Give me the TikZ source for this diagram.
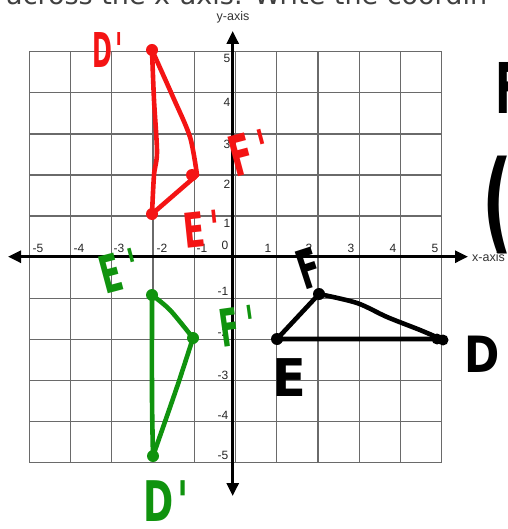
\documentclass[tikz,border=0pt]{standalone}
\usepackage{fontspec}
\setmainfont{Liberation Sans}
\newfontfamily\handfont{DejaVu Sans}
\newfontfamily\topfont{DejaVu Sans}
\usetikzlibrary{arrows.meta}
\definecolor{pred}{HTML}{F41414}
\definecolor{pgreen}{HTML}{10930E}
\definecolor{gridgray}{HTML}{6A6A6A}
\newcommand{\hwtext}[2]{\scalebox{#1}[1]{#2}}
\begin{document}
\begin{tikzpicture}[x=1pt,y=-1pt,
  gridline/.style={draw=gridgray,line width=1.3pt},
  axisline/.style={line width=2.8pt,{Triangle[length=13pt,width=12pt]}-{Triangle[length=13pt,width=12pt]}},
  ticklab/.style={font=\fontsize{12}{12}\selectfont,text=black!85,inner sep=0pt},
  axlab/.style={font=\fontsize{12.5}{12.5}\selectfont,text=black!80,inner sep=0pt},
  hand/.style={inner sep=0pt,font=\handfont\bfseries\fontsize{#1}{#1}\selectfont},
  stroke/.style={draw=#1,line width=4.6pt,line cap=round,line join=round},
  vdot/.style={circle,inner sep=0pt,minimum size=12pt,fill=#1}
]
\useasboundingbox (0,0) rectangle (507,529);
\fill[white] (0,0) rectangle (507,529);

% top cut text
\node[anchor=base west,inner sep=0pt,text=black!75,font=\topfont\fontsize{27}{27}\selectfont] (toptxt) at (6,5) {across the x-axis. Write the coordin};

% grid
\foreach \i in {0,...,10} {
  \draw[gridline] ({29.3+41.24*\i},51.7) -- ({29.3+41.24*\i},462.7);
  \draw[gridline] (29.3,{51.7+41.1*\i}) -- (441.7,{51.7+41.1*\i});
}

% axes
\coordinate (xl) at (8,256.7);
\coordinate (xr) at (468,256.7);
\coordinate (yt) at (232.7,31);
\coordinate (yb) at (232.7,496);
\draw[axisline] (xl) -- (xr);
\draw[axisline] (yb) -- (yt);
\node[axlab] (ylab) at (233,17) {y-axis};
\node[axlab,anchor=west] (xlab) at (472,257) {x-axis};

% tick labels
\foreach \v/\xx [count=\k] in {-5/38,-4/79,-3/119,-2/162,-1/202,1/268,2/309,3/351,4/393,5/435}
  \node[ticklab] (xt\k) at (\xx,248) {\v};
\node[ticklab] (zero) at (225,245) {0};
\foreach \v/\yy [count=\k] in {5/58,4/102,3/144,2/184,1/223}
  \node[ticklab] (yp\k) at (227,\yy) {\v};
\foreach \v/\yy [count=\k] in {-1/291,-2/332,-3/375,-4/415,-5/455}
  \node[ticklab] (yn\k) at (223,\yy) {\v};

% red triangle
\coordinate (Dr) at (152,50);
\coordinate (Fr) at (197,175);
\coordinate (Er) at (152,214);
\draw[stroke=pred] plot[smooth] coordinates {(Dr) (173,97) (190,137) (Fr)};
\draw[stroke=pred] (Fr) -- (Er);
\draw[stroke=pred] plot[smooth] coordinates {(Dr) (154,100) (157,152) (154,175) (Er)};
\node[vdot=pred] (dDr) at (Dr) {};
\node[vdot=pred] (dFr) at (192,175) {};
\node[vdot=pred] (dEr) at (Er) {};

% green triangle
\coordinate (Eg) at (152,295);
\coordinate (Fg) at (193,338);
\coordinate (Dg) at (153,456);
\draw[stroke=pgreen] plot[smooth] coordinates {(Eg) (170,310) (Fg)};
\draw[stroke=pgreen] plot[smooth] coordinates {(Fg) (177,387) (Dg)};
\draw[stroke=pgreen] plot[smooth] coordinates {(Dg) (152,397) (Eg)};
\node[vdot=pgreen] (dEg) at (Eg) {};
\node[vdot=pgreen] (dFg) at (Fg) {};
\node[vdot=pgreen] (dDg) at (Dg) {};

% black triangle
\coordinate (Fb) at (319,294);
\coordinate (Eb) at (277,339);
\coordinate (Db) at (441,339);
\draw[stroke=black] (Fb) -- (Eb) -- (Db);
\draw[stroke=black] plot[smooth] coordinates {(Db) (420,330) (387,317) (357,303) (Fb)};
\node[vdot=black] (dFb) at (Fb) {};
\node[vdot=black] (dEb) at (Eb) {};
\node[vdot=black,minimum size=11pt] (dDb) at (437,339) {};
\node[vdot=black,minimum size=11pt] (dDb2) at (443,340) {};

% handwritten labels
\node[hand=48,text=pred] (lDr) at (108,50) {\hwtext{0.5}{D\kern6pt\textquotesingle}};
\node[hand=56,text=pred,rotate=15] (lFr) at (250,153) {\hwtext{0.6}{F\kern12pt\textquotesingle}};
\node[hand=48,text=pred,rotate=6] (lEr) at (202,229) {\hwtext{0.65}{E\kern10pt\textquotesingle}};
\node[hand=52,text=pgreen,rotate=15] (lEg) at (120,271) {\hwtext{0.6}{E\kern14pt\textquotesingle}};
\node[hand=52,text=pgreen,rotate=8] (lFg) at (238,326) {\hwtext{0.55}{F\kern14pt\textquotesingle}};
\node[hand=56,text=pgreen] (lDg) at (166,501) {\hwtext{0.65}{D\kern6pt\textquotesingle}};
\node[hand=54,text=black,rotate=18] (lFb) at (309,268) {\hwtext{0.6}{F}};
\node[hand=52,text=black] (lEb) at (289,378) {\hwtext{0.95}{E}};
\node[hand=50,text=black] (lDb) at (482,354) {\hwtext{0.85}{D}};

% cut-off writing at the right edge
\node[hand=70,text=black,anchor=west] (rF) at (495,88) {\hwtext{0.6}{F}};
\node[hand=110,text=black,anchor=west] (rP) at (482,205) {\hwtext{0.6}{(}};
\end{tikzpicture}
\end{document}
